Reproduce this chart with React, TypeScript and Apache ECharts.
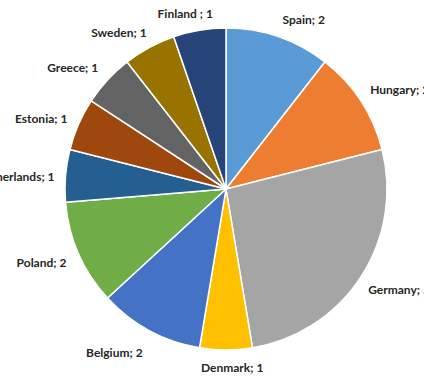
import React, { useEffect, useRef } from "react";
import * as echarts from "echarts";

const countries = ["Spain", "Hungary", "Germany", "Denmark", "Belgium", "Poland", "Netherlands", "Estonia", "Greece", "Sweden", "Finland"];
const counts = [2, 2, 5, 1, 2, 2, 1, 1, 1, 1, 1];
const labelSeparators = ["; ", "; ", "; ", "; ", "; ", "; ", "; ", "; ", "; ", "; ", " ; "];
const colors = ["#5B9BD5", "#ED7D31", "#A5A5A5", "#FFC000", "#4472C4", "#70AD47", "#255E91", "#9E480E", "#636363", "#997300", "#264478"];

// small label nudges (px) to mimic the spreadsheet's label placement
const labelNudgeX = [-4, -4, -6, -30, 3, 2, 4, 3, 3, 7, 20];
const labelNudgeY = [-8, -6, 7, 7, 13, 5, 2, -2, -6, -6, -7];

export default function App() {
  const ref = useRef<HTMLDivElement>(null);
  useEffect(() => {
    if (!ref.current) return;
    const chart = echarts.init(ref.current, null, { renderer: "svg" });
    chart.setOption({
      animation: false,
      backgroundColor: "#ffffff",
      series: [
        {
          type: "pie",
          center: [226, 189],
          radius: [0, 161],
          startAngle: 90,
          clockwise: true,
          avoidLabelOverlap: false,
          itemStyle: { borderColor: "#ffffff", borderWidth: 1.5 },
          label: {
            show: true,
            position: "outside",
            fontFamily: "Lato",
            fontWeight: "bold",
            fontSize: 12,
            color: "#262626",
            formatter: (p: any) => p.name + labelSeparators[p.dataIndex] + p.value,
          },
          labelLine: { show: false, length: 10, length2: 0 },
          labelLayout: (p: any) => ({ dx: labelNudgeX[p.dataIndex], dy: labelNudgeY[p.dataIndex] }),
          data: countries.map((c, i) => ({ name: c, value: counts[i], itemStyle: { color: colors[i] } })),
        },
      ],
    });
    return () => chart.dispose();
  }, []);
  return <div ref={ref} style={{ position: "absolute", left: 0, top: 0, width: 424, height: 376 }} />;
}
